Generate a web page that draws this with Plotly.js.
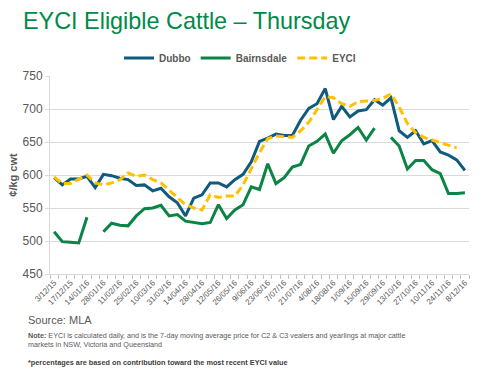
<!DOCTYPE html>
<html>
<head>
<meta charset="utf-8">
<script src="https://cdn.plot.ly/plotly-3.0.1.min.js"></script>
<style>html,body{margin:0;padding:0;background:#fff;}#chart{width:500px;height:371px;}</style>
</head>
<body>
<div id="chart"></div>
<script>
const dates = ["3/12/15","10/12/15","17/12/15","7/01/16","14/01/16","21/01/16","28/01/16","4/02/16","11/02/16","18/02/16",
"25/02/16","3/03/16","10/03/16","24/03/16","31/03/16","7/04/16","14/04/16","21/04/16","28/04/16","5/05/16",
"12/05/16","19/05/16","26/05/16","2/06/16","9/06/16","16/06/16","23/06/16","30/06/16","7/07/16","14/07/16",
"21/07/16","28/07/16","4/08/16","11/08/16","18/08/16","25/08/16","1/09/16","8/09/16","15/09/16","22/09/16",
"29/09/16","6/10/16","13/10/16","20/10/16","27/10/16","3/11/16","10/11/16","17/11/16","24/11/16","1/12/16","8/12/16"];

const dubbo = [596,585,594,594,598,581,601,599,595,593,
584,585,576,580,567,558,538,565,570,588,
588,582,593,601,620,651,656,662,660,660,
683,701,708,731,684,704,688,697,699,714,
706,717,667,657,667,647,652,635,630,623,607];

const bairnsdale = [514,499,498,497,536,null,514,527,524,523,
538,549,550,554,538,540,530,528,526,528,
555,534,547,555,582,578,617,587,596,612,
616,644,651,662,633,652,661,672,653,671,
null,657,644,609,622,622,608,602,572,572,573];

const eyci = [597,587,587,593,600,588,585,588,593,603,
598,600,593,588,577,566,555,550,547,570,
566,568,568,585,610,634,655,659,658,657,
667,680,699,719,717,708,704,711,712,713,
716,723,703,678,664,657,653,649,644,641,null];

const yTicks = [450,500,550,600,650,700,750];
const xIdx = dates.map((d,i)=>i);
const labelIdx = xIdx.filter(i=>i%2===0);
const labelText = labelIdx.map(i=>dates[i]);

const traces = [
 {x:xIdx, y:dubbo, name:'Dubbo', type:'scatter', mode:'lines', line:{color:'#0f5a7d', width:3}},
 {x:xIdx, y:bairnsdale, name:'Bairnsdale', type:'scatter', mode:'lines', line:{color:'#0b8445', width:3}},
 {x:xIdx, y:eyci, name:'EYCI', type:'scatter', mode:'lines', line:{color:'#ffc000', width:3, dash:'8px,4px'}}
];

const grey = '#595959';
const W=500,H=371,L=50,R=31,T=76,B=97;
const pw=W-L-R, ph=H-T-B;
const px=(x)=>(x-L)/pw;
const py=(y)=>(H-B-y)/ph;

const layout = {
 width:W, height:H,
 margin:{l:L,r:R,t:T,b:B,pad:0},
 paper_bgcolor:'#fff', plot_bgcolor:'#fff',
 font:{family:'Liberation Sans, Arial, sans-serif', color:grey},
 title:{text:'EYCI Eligible Cattle – Thursday', x:23/W, xanchor:'left', xref:'container', yref:'container', y:1-21/H, yanchor:'middle',
   font:{size:23.4, color:'#008a4a', family:'Liberation Sans, Arial, sans-serif'}},
 showlegend:true,
 legend:{orientation:'h', x:px(240), xanchor:'center', y:py(58), yanchor:'middle',
   font:{size:10, color:grey, family:'Liberation Sans, Arial, sans-serif', weight:'bold'}, itemwidth:30, tracegroupgap:0, bgcolor:'rgba(0,0,0,0)'},
 xaxis:{type:'linear', range:[-0.5, dates.length-0.5], tickmode:'array', tickvals:labelIdx, ticktext:labelText,
   tickangle:-45, tickfont:{size:8, color:grey}, ticks:'', showgrid:false, zeroline:false, automargin:false,
   showline:true, linecolor:'#d9d9d9', linewidth:1,
   minor:{tickmode:'linear', tick0:-0.5, dtick:1, ticks:'outside', ticklen:4, tickcolor:'#bfbfbf', tickwidth:1, showgrid:false}},
 yaxis:{range:[450,750], tickmode:'array', tickvals:yTicks, tickfont:{size:12, color:grey}, automargin:false,
   showgrid:true, gridcolor:'#d9d9d9', gridwidth:1, zeroline:false, showline:true, linecolor:'#d9d9d9', linewidth:1,
   ticks:'outside', ticklen:4, tickcolor:'#d9d9d9',
   title:{text:'¢/kg cwt', font:{size:11, color:grey, weight:'bold'}, standoff:2}},
 annotations:[
   {text:'Source: MLA', xref:'paper', yref:'paper', x:px(26), y:py(320), xanchor:'left', yanchor:'middle', showarrow:false,
    font:{size:11, color:grey}},
   {text:'<b>Note:</b> EYCI is calculated daily, and is the 7-day moving average price for C2 & C3 vealers and yearlings at major cattle<br>markets in NSW, Victoria and Queensland',
    xref:'paper', yref:'paper', x:px(26), y:py(340), xanchor:'left', yanchor:'middle', align:'left', showarrow:false,
    font:{size:7.2, color:grey}},
   {text:'<b>*percentages are based on contribution toward the most recent EYCI value</b>', xref:'paper', yref:'paper', x:px(26), y:py(362), xanchor:'left', yanchor:'middle', showarrow:false,
    font:{size:7.3, color:'#404040'}}
 ]
};

Plotly.newPlot('chart', traces, layout, {displayModeBar:false, staticPlot:true});
</script>
</body>
</html>
